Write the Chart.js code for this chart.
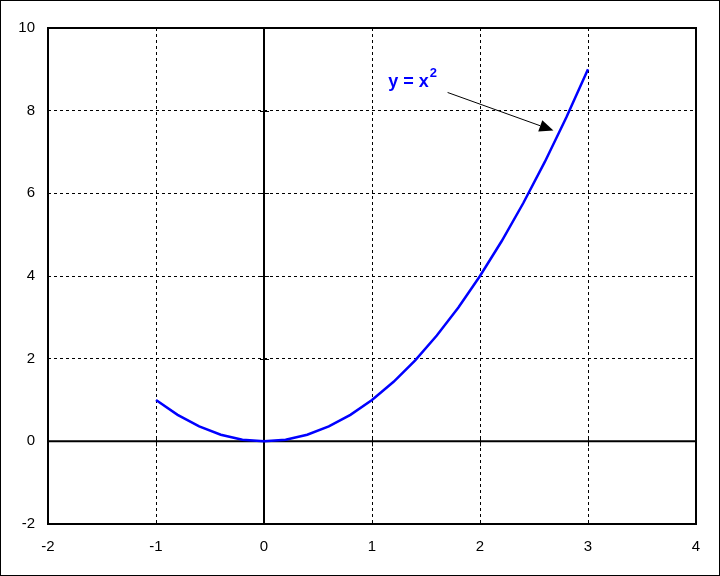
<!DOCTYPE html>
<html lang="en">
  <head>
    <meta charset="UTF-8" />
    <script src="https://cdn.jsdelivr.net/npm/chart.js@4.4.0/dist/chart.umd.min.js"></script>
    <title>y = x^2</title>
    <style>
      body { margin: 0; background: #fff; }
    </style>
  </head>
  <body>
    <canvas id="myChart" width="720" height="576"></canvas>

    <script>
      // curve points
      var xVals = [-1, -0.8, -0.6, -0.4, -0.2, 0, 0.2, 0.4, 0.6, 0.8, 1, 1.2, 1.4, 1.6, 1.8, 2, 2.2, 2.4, 2.6, 2.8, 3];
      var yVals = [1, 0.64, 0.36, 0.16, 0.04, 0, 0.04, 0.16, 0.36, 0.64, 1, 1.44, 1.96, 2.56, 3.24, 4, 4.84, 5.76, 6.76, 7.84, 9];
      var xRange = [-2, 4];
      var yRange = [-2, 10];
      // label (baseline) and arrow, in data units
      var labelPos = [1.15, 8.58];
      var arrowFrom = [1.7, 8.44];
      var arrowTo = [2.68, 7.52];

      var points = xVals.map(function (x, i) { return { x: x, y: yVals[i] }; });

      var frame = {
        id: 'frame',
        beforeDatasetsDraw: function (chart) {
          var ctx = chart.ctx, a = chart.chartArea;
          var sx = chart.scales.x, sy = chart.scales.y;
          var x0 = sx.getPixelForValue(0), y0 = sy.getPixelForValue(0);
          ctx.save();
          ctx.strokeStyle = '#000';
          ctx.lineWidth = 2;
          ctx.beginPath();
          ctx.moveTo(x0, a.top); ctx.lineTo(x0, a.bottom);
          ctx.moveTo(a.left, y0); ctx.lineTo(a.right, y0);
          ctx.stroke();
          // cross tick marks on the zero axes
          ctx.lineWidth = 1;
          ctx.beginPath();
          sx.ticks.forEach(function (t) {
            var p = Math.round(sx.getPixelForValue(t.value)) + 0.5;
            ctx.moveTo(p, y0 - 4); ctx.lineTo(p, y0 + 5);
          });
          sy.ticks.forEach(function (t) {
            var p = Math.round(sy.getPixelForValue(t.value)) + 0.5;
            ctx.moveTo(x0 - 4, p); ctx.lineTo(x0 + 5, p);
          });
          ctx.stroke();
          ctx.restore();
        },
        afterDraw: function (chart) {
          var ctx = chart.ctx, a = chart.chartArea;
          var sx = chart.scales.x, sy = chart.scales.y;
          ctx.save();
          ctx.strokeStyle = '#000';
          ctx.lineWidth = 2;
          ctx.strokeRect(a.left, a.top, a.right - a.left, a.bottom - a.top);
          ctx.lineWidth = 1;
          ctx.strokeRect(0.5, 0.5, chart.width - 1, chart.height - 1);

          // label
          var lx = sx.getPixelForValue(labelPos[0]), ly = sy.getPixelForValue(labelPos[1]);
          ctx.fillStyle = '#0000ff';
          ctx.textBaseline = 'alphabetic';
          ctx.font = 'bold 18px Arial, "Liberation Sans"';
          ctx.fillText('y = x', lx, ly);
          var w = ctx.measureText('y = x').width;
          ctx.font = 'bold 13px Arial, "Liberation Sans"';
          ctx.fillText('2', lx + w + 1, ly - 9.5);

          // arrow
          var ax = sx.getPixelForValue(arrowFrom[0]), ay = sy.getPixelForValue(arrowFrom[1]);
          var bx = sx.getPixelForValue(arrowTo[0]), by = sy.getPixelForValue(arrowTo[1]);
          var ang = Math.atan2(by - ay, bx - ax);
          var hl = 14, hw = 6;
          ctx.strokeStyle = '#000';
          ctx.lineWidth = 1;
          ctx.beginPath();
          ctx.moveTo(ax, ay);
          ctx.lineTo(bx - hl * Math.cos(ang), by - hl * Math.sin(ang));
          ctx.stroke();
          ctx.fillStyle = '#000';
          ctx.beginPath();
          ctx.moveTo(bx, by);
          ctx.lineTo(bx - hl * Math.cos(ang) + hw * Math.sin(ang), by - hl * Math.sin(ang) - hw * Math.cos(ang));
          ctx.lineTo(bx - hl * Math.cos(ang) - hw * Math.sin(ang), by - hl * Math.sin(ang) + hw * Math.cos(ang));
          ctx.closePath();
          ctx.fill();
          ctx.restore();
        }
      };

      var ctx = document.getElementById('myChart').getContext('2d');
      var myChart = new Chart(ctx, {
        type: 'scatter',
        data: {
          datasets: [
            {
              data: points,
              showLine: true,
              borderColor: '#0000ff',
              borderWidth: 2.5,
              pointRadius: 0,
              tension: 0
            }
          ]
        },
        options: {
          responsive: false,
          animation: false,
          layout: { padding: { left: 0, top: 28, right: 24, bottom: 0 } },
          plugins: { legend: { display: false }, tooltip: { enabled: false } },
          scales: {
            x: {
              type: 'linear',
              min: xRange[0],
              max: xRange[1],
              afterFit: function (s) { s.height = 52; },
              ticks: {
                stepSize: 1,
                color: '#000',
                padding: 14,
                font: { family: 'Arial, "Liberation Sans"', size: 15 }
              },
              grid: { color: '#000', lineWidth: 1, drawTicks: false },
              border: { display: false, dash: [3, 3] }
            },
            y: {
              type: 'linear',
              min: yRange[0],
              max: yRange[1],
              afterFit: function (s) { s.width = 48; },
              ticks: {
                stepSize: 2,
                color: '#000',
                padding: 13,
                font: { family: 'Arial, "Liberation Sans"', size: 15 }
              },
              grid: { color: '#000', lineWidth: 1, drawTicks: false },
              border: { display: false, dash: [3, 3] }
            }
          }
        },
        plugins: [frame]
      });
    </script>
  </body>
</html>
